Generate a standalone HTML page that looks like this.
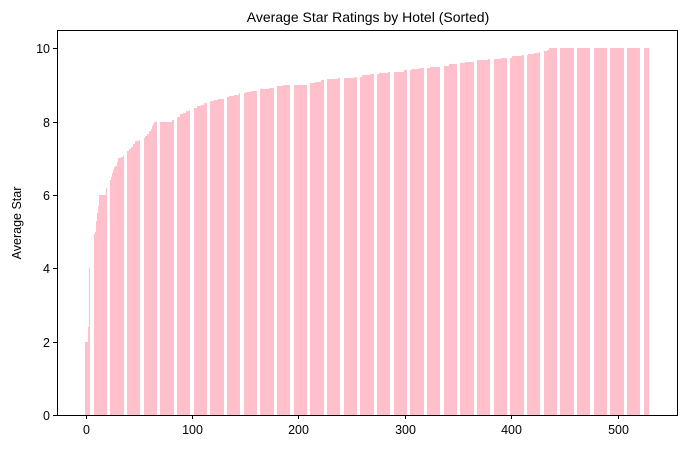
<!DOCTYPE html>
<html><head><meta charset="utf-8"><style>
body{margin:0;background:#fff;}
svg text{font-family:"Liberation Sans","DejaVu Sans",sans-serif;fill:#000;}
</style></head><body>
<svg id="chart" width="687" height="449" viewBox="0 0 687 449" xmlns="http://www.w3.org/2000/svg">
<rect width="687" height="449" fill="#fff"/>
<text x="368" y="22" font-size="14" text-anchor="middle">Average Star Ratings by Hotel (Sorted)</text>
<text transform="translate(21,223) rotate(-90)" font-size="12.5" text-anchor="middle">Average Star</text>
<g id="bars" shape-rendering="crispEdges"></g>
<g id="axes" shape-rendering="crispEdges"></g>
</svg>
<script>
const runValues=[2.0,2.4,4.0,4.3,4.95,5.0,5.3,5.5,5.7,6.0,6.2,6.25,6.4,6.5,6.6,6.67,6.75,6.8,6.9,7.0,7.05,7.1,7.2,7.25,7.3,7.4,7.46,7.5,7.55,7.6,7.67,7.75,7.8,7.88,7.95,8.0,8.05,8.1,8.14,8.2,8.25,8.29,8.33,8.38,8.42,8.45,8.5,8.55,8.6,8.63,8.67,8.7,8.74,8.77,8.8,8.85,8.88,8.9,8.93,8.96,9.0,9.05,9.09,9.13,9.17,9.2,9.23,9.27,9.3,9.33,9.36,9.4,9.43,9.46,9.5,9.53,9.56,9.6,9.64,9.67,9.7,9.75,9.78,9.82,9.84,9.86,9.9,9.93,9.96,10.0];
const runCounts=[3,1,3,1,1,1,1,1,1,7,2,1,1,1,1,1,1,2,1,3,2,3,2,2,2,2,4,3,2,2,2,2,1,1,1,17,2,2,3,3,3,3,4,3,4,3,5,4,4,6,4,5,5,6,5,6,5,6,7,6,24,6,6,3,13,16,6,8,8,9,15,6,8,10,10,8,8,7,10,12,12,10,10,5,6,5,4,3,2,94];
const xTicks=[0,100,200,300,400,500];
const yTicks=[0,2,4,6,8,10];

const values=[];
runValues.forEach((v,k)=>{for(let j=0;j<runCounts[k];j++)values.push(v);});

const L=57,R=677,T=30,B=415;
const xMin=-26.9,xMax=555.9,yMin=0,yMax=10.5;
const xs=v=>L+(v-xMin)/(xMax-xMin)*(R-L);
const ys=v=>B-(v-yMin)/(yMax-yMin)*(B-T);
const NS="http://www.w3.org/2000/svg";
const bars=document.getElementById('bars');
values.forEach((v,i)=>{
  const x0=Math.round(xs(i-0.4)),x1=Math.round(xs(i+0.4));
  if(x1<=x0)return;
  const r=document.createElementNS(NS,'rect');
  
  
  const yt=Math.round(ys(v));
  r.setAttribute('x',x0);r.setAttribute('width',x1-x0);
  r.setAttribute('y',yt);r.setAttribute('height',B-yt);
  r.setAttribute('fill','#ffc0cb');
  bars.appendChild(r);
});
const axes=document.getElementById('axes');
function el(tag,attrs){const e=document.createElementNS(NS,tag);for(const k in attrs)e.setAttribute(k,attrs[k]);axes.appendChild(e);return e;}
const frame=el('rect',{x:L+0.5,y:T+0.5,width:R-L,height:B-T,fill:'none',stroke:'#000','stroke-width':1});


xTicks.forEach(t=>{
  const x=Math.round(xs(t))+0.5;
  const tk=el('line',{x1:x,x2:x,y1:B,y2:B+4,stroke:'#000'});
  
  
  const lb=el('text',{x:x,y:B+19,'font-size':12.5,'text-anchor':'middle'});
  
  
  lb.textContent=t;
});
yTicks.forEach(t=>{
  const y=Math.round(ys(t))+0.5;
  const tk=el('line',{x1:L-4,x2:L,y1:y,y2:y,stroke:'#000'});
  
  
  const lb=el('text',{x:L-7,y:y+4.5,'font-size':12.5,'text-anchor':'end'});
  
  
  lb.textContent=t;
});
</script>
</body></html>
